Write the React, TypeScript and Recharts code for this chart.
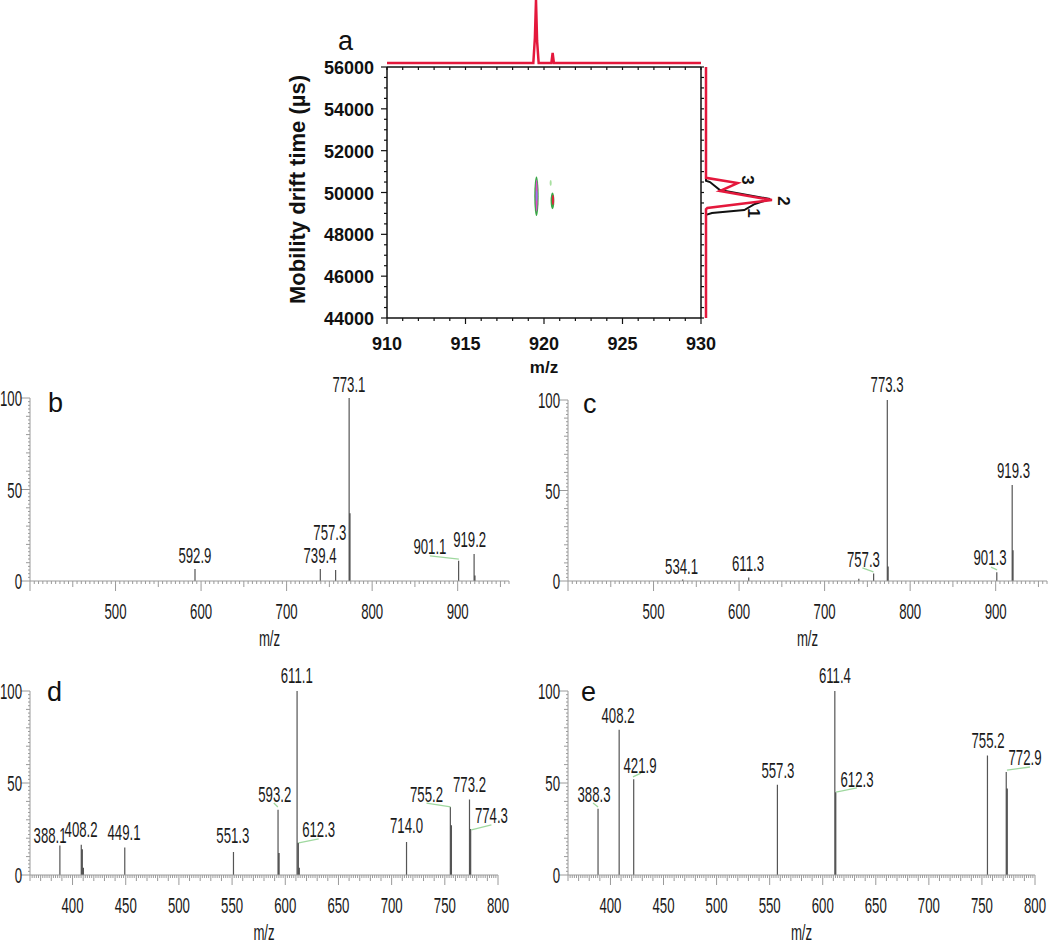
import React from "react";
import {
  ComposedChart,
  Line,
  Scatter,
  XAxis,
  YAxis,
  ReferenceDot,
  ReferenceLine,
  ReferenceArea,
  Label,
} from "recharts";

const SANS = "'Liberation Sans', Arial, Helvetica, sans-serif";
const AXIS = "#9a9a9a";
const STICK = "#555555";
const LEAD = "#9fd89f";
const RED = "#e4183c";

// ---------- panel a: drift time / m/z map ----------
const mapMzRange: [number, number] = [910, 930];
const mapDtRange: [number, number] = [44000, 56000];

// summed m/z projection above the map
const topProfile = [
  { mz: 910, i: 0 },
  { mz: 919.32, i: 0 },
  { mz: 919.42, i: 40 },
  { mz: 919.49, i: 100 },
  { mz: 919.56, i: 35 },
  { mz: 919.66, i: 0 },
  { mz: 920.47, i: 0 },
  { mz: 920.55, i: 16 },
  { mz: 920.63, i: 0 },
  { mz: 930, i: 0 },
];

// drift time projections on the right (i = relative intensity)
const driftRed = [
  { i: 0, dt: 56000 },
  { i: 0, dt: 50700 },
  { i: 48, dt: 50450 },
  { i: 21, dt: 50070 },
  { i: 100, dt: 49640 },
  { i: 2, dt: 49260 },
  { i: 0, dt: 49200 },
  { i: 0, dt: 44000 },
];
const driftBlack = [
  { i: 0, dt: 56000 },
  { i: 0, dt: 50560 },
  { i: 6, dt: 50500 },
  { i: 21, dt: 50120 },
  { i: 97, dt: 49690 },
  { i: 74, dt: 49450 },
  { i: 58, dt: 49160 },
  { i: 9, dt: 49020 },
  { i: 0, dt: 48930 },
  { i: 0, dt: 44000 },
];
const driftLabels = [
  { text: "3", i: 64, dt: 50600 },
  { text: "2", i: 118, dt: 49600 },
  { text: "1", i: 72, dt: 49020 },
];

// contour spots: m/z extent, drift time extent, contour level
const spots = [
  { mz: [919.38, 919.66], dt: [48880, 50760], level: 0 },
  { mz: [919.46, 919.6], dt: [49080, 50620], level: 2 },
  { mz: [919.5, 919.57], dt: [49600, 50100], level: 3 },
  { mz: [920.36, 920.49], dt: [50310, 50600], level: 1 },
  { mz: [920.42, 920.66], dt: [49200, 50000], level: 0 },
  { mz: [920.5, 920.64], dt: [49400, 49880], level: 4 },
];
const levelColors = ["#38a845", "#a8e0a0", "#e24ad0", "#8f7bff", "#d9283c"];

// ---------- panels b-e: MS/MS spectra ----------
type Peak = [number, number];
type PeakLabel = { text: string; mz: number; y: number };
type Leader = [number, number, number, number];

const peaksB: Peak[] = [
  [592.9, 6.5], [739.4, 6.5], [757.3, 6], [773.1, 100], [774.1, 37],
  [901.1, 11], [919.2, 14.7], [920.2, 3],
];
const labelsB: PeakLabel[] = [
  { text: "773.1", mz: 772.8, y: 103.3 },
  { text: "592.9", mz: 592.8, y: 9.8 },
  { text: "739.4", mz: 739, y: 9.8 },
  { text: "757.3", mz: 750.5, y: 22.4 },
  { text: "901.1", mz: 867.5, y: 14.8 },
  { text: "919.2", mz: 914, y: 18.6 },
];
const leadersB: Leader[] = [[867.5, 13.7, 901.4, 12.0]];

const peaksC: Peak[] = [
  [534.1, 0.8], [611.3, 2], [740, 1.2], [757.3, 4.2], [773.3, 100], [774.3, 8],
  [901.3, 4.8], [919.3, 53], [920.3, 17],
];
const labelsC: PeakLabel[] = [
  { text: "773.3", mz: 773, y: 104.4 },
  { text: "534.1", mz: 532.8, y: 3.9 },
  { text: "611.3", mz: 610.4, y: 5.5 },
  { text: "757.3", mz: 745.4, y: 7.7 },
  { text: "901.3", mz: 893.4, y: 8.8 },
  { text: "919.3", mz: 920.8, y: 56.9 },
];
const leadersC: Leader[] = [
  [744.2, 7.2, 757.1, 5.0],
  [894.6, 7.7, 901.6, 6.1],
];

const peaksD: Peak[] = [
  [388.1, 16], [408.2, 16.5], [409.2, 14], [410.2, 4], [449.1, 15], [551.3, 12.5],
  [593.2, 35.5], [594.2, 12], [611.1, 100], [612.3, 17.5], [613.2, 4], [714.0, 18],
  [755.2, 37], [756.2, 27], [773.2, 41], [774.3, 25],
];
const labelsD: PeakLabel[] = [
  { text: "611.1", mz: 610.8, y: 104.3 },
  { text: "388.1", mz: 378.9, y: 17.4 },
  { text: "408.2", mz: 408, y: 20.7 },
  { text: "449.1", mz: 448.4, y: 19 },
  { text: "551.3", mz: 550.7, y: 17.4 },
  { text: "593.2", mz: 590.1, y: 39.7 },
  { text: "612.3", mz: 631.4, y: 20.7 },
  { text: "714.0", mz: 714, y: 22.8 },
  { text: "755.2", mz: 732.8, y: 39.7 },
  { text: "773.2", mz: 773.2, y: 45.1 },
  { text: "774.3", mz: 793.8, y: 28.3 },
];
const leadersD: Leader[] = [
  [589.2, 39.1, 593, 37],
  [612.7, 17.4, 631.4, 19.6],
  [732.8, 39.1, 755.4, 37],
  [775, 24.5, 793.8, 27.2],
];

const peaksE: Peak[] = [
  [388.3, 36], [408.2, 79], [421.9, 52], [557.3, 49], [611.4, 100], [612.3, 45],
  [755.2, 65], [772.9, 56], [773.9, 47],
];
const labelsE: PeakLabel[] = [
  { text: "611.4", mz: 611.5, y: 104.3 },
  { text: "408.2", mz: 407.1, y: 82.6 },
  { text: "421.9", mz: 427.8, y: 55.4 },
  { text: "388.3", mz: 384.5, y: 39.7 },
  { text: "557.3", mz: 557.8, y: 52.7 },
  { text: "612.3", mz: 632.3, y: 47.8 },
  { text: "755.2", mz: 755.7, y: 69 },
  { text: "772.9", mz: 790.6, y: 59.8 },
];
const leadersE: Leader[] = [
  [421.2, 53.3, 428.8, 55.4],
  [383.6, 39.1, 388.3, 37],
  [612.5, 45.1, 632.3, 47.3],
  [773.6, 57, 795.3, 58.7],
];

const range = (a: number, b: number, step: number) => {
  const out: number[] = [];
  for (let v = a; v <= b + 1e-9; v += step) out.push(Math.round(v * 100) / 100);
  return out;
};
const isMult = (v: number, n: number) => Math.abs(v / n - Math.round(v / n)) < 1e-6;

const CondText = ({ x, y, text, anchor = "middle", size = 22 }: any) => (
  <g transform={`translate(${x},${y}) scale(0.6,1)`}>
    <text x={0} y={0} textAnchor={anchor} fontSize={size} fontFamily={SANS} fill="#1a1a1a">
      {text}
    </text>
  </g>
);

type TickSteps = { minor: number; mid: number; major: number; firstLabel: number };

function Spectrum({
  box,
  plot,
  domain,
  peaks,
  labels,
  leaders,
  steps,
}: {
  box: [number, number, number, number];
  plot: [number, number, number, number];
  domain: [number, number];
  peaks: Peak[];
  labels: PeakLabel[];
  leaders: Leader[];
  steps: TickSteps;
}) {
  const [left, top, width, height] = box;
  const [x0, y100, x1, y0] = plot;
  const sticks = peaks.flatMap(([mz, v]) => [
    { mz, v: 0 },
    { mz, v },
    { mz, v: null },
  ]);
  const xTicks = range(domain[0], domain[1], steps.minor);
  const yTicks = range(0, 100, 2);

  const xTick = (p: any) => {
    const v = p.payload.value;
    const len = isMult(v, steps.major) ? 10 : isMult(v, steps.mid) ? 6 : 3;
    const lab = isMult(v, steps.major) && v >= steps.firstLabel;
    return (
      <g>
        <line x1={p.x} x2={p.x} y1={p.y} y2={p.y + len} stroke={AXIS} />
        {lab && <CondText x={p.x} y={p.y + 38} text={String(v)} />}
      </g>
    );
  };
  const yTick = (p: any) => {
    const v = p.payload.value;
    const major = isMult(v, 50);
    const len = major ? 9 : isMult(v, 10) ? 4 : 2;
    return (
      <g>
        <line x1={p.x - len} x2={p.x} y1={p.y} y2={p.y} stroke={AXIS} />
        {major && <CondText x={p.x - 8} y={p.y + 8} text={String(v)} anchor="end" />}
      </g>
    );
  };

  return (
    <div style={{ position: "absolute", left, top }}>
      <ComposedChart
        width={width}
        height={height}
        data={sticks}
        margin={{ top: y100 - top, right: left + width - x1, bottom: 0, left: 0 }}
      >
        <XAxis
          type="number"
          dataKey="mz"
          domain={domain}
          ticks={xTicks}
          interval={0}
          tickSize={0}
          tickMargin={0}
          tickLine={false}
          height={top + height - y0}
          axisLine={{ stroke: AXIS }}
          tick={xTick}
        >
          <Label
            content={(lp: any) => {
              const vb = lp.viewBox || {};
              return <CondText x={vb.x + vb.width / 2} y={vb.y + 65} text="m/z" />;
            }}
          />
        </XAxis>
        <YAxis
          type="number"
          domain={[0, 100]}
          ticks={yTicks}
          interval={0}
          tickSize={0}
          tickMargin={0}
          tickLine={false}
          width={x0 - left}
          axisLine={{ stroke: AXIS }}
          tick={yTick}
        />
        <Line
          dataKey="v"
          stroke={STICK}
          strokeWidth={1.2}
          dot={false}
          activeDot={false}
          connectNulls={false}
          isAnimationActive={false}
        />
        {leaders.map(([a, b, c, d], k) => (
          <ReferenceLine
            key={"l" + k}
            segment={[
              { x: a, y: b },
              { x: c, y: d },
            ]}
            stroke={LEAD}
            strokeWidth={1.3}
            ifOverflow="visible"
          />
        ))}
        {labels.map((l, k) => (
          <ReferenceDot
            key={"t" + k}
            x={l.mz}
            y={l.y}
            r={0}
            ifOverflow="visible"
            shape={(sp: any) => <CondText x={sp.cx} y={sp.cy} text={l.text} />}
          />
        ))}
      </ComposedChart>
    </div>
  );
}

const BOLD = { fontFamily: SANS, fontWeight: 700 as const, fill: "#111" };

function MapPanel() {
  const xTicks = range(910, 930, 1);
  const yTicks = range(44000, 56000, 500);
  const spotCenters = spots.map((s) => ({ mz: (s.mz[0] + s.mz[1]) / 2, dt: (s.dt[0] + s.dt[1]) / 2 }));
  const bottomTick = (p: any) => {
    const v = p.payload.value;
    const major = isMult(v, 5);
    return (
      <g>
        <line x1={p.x} x2={p.x} y1={p.y} y2={p.y + (major ? 6 : 3)} stroke="#111" strokeWidth={1.2} />
        {major && (
          <text x={p.x} y={p.y + 32} textAnchor="middle" fontSize={18} {...BOLD}>
            {v}
          </text>
        )}
      </g>
    );
  };
  const topTick = (p: any) => (
    <line x1={p.x} x2={p.x} y1={p.y} y2={p.y + 3} stroke="#111" strokeWidth={1.2} />
  );
  const leftTick = (p: any) => {
    const v = p.payload.value;
    const major = isMult(v, 2000);
    return (
      <g>
        <line x1={p.x - (major ? 6 : 3)} x2={p.x} y1={p.y} y2={p.y} stroke="#111" strokeWidth={1.2} />
        {major && (
          <text x={p.x - 13} y={p.y + 7} textAnchor="end" fontSize={18} {...BOLD}>
            {v}
          </text>
        )}
      </g>
    );
  };
  const rightTick = (p: any) => (
    <line x1={p.x} x2={p.x + 3} y1={p.y} y2={p.y} stroke="#111" strokeWidth={1.2} />
  );
  const common = { tickSize: 0, tickMargin: 0, tickLine: false, interval: 0 as const };

  return (
    <>
      {/* m/z projection */}
      <div style={{ position: "absolute", left: 387, top: 0 }}>
        <ComposedChart width={314} height={70} data={topProfile} margin={{ top: 0, right: 0, bottom: 7, left: 0 }}>
          <XAxis type="number" dataKey="mz" domain={mapMzRange} hide />
          <YAxis type="number" domain={[0, 100]} hide />
          <Line dataKey="i" stroke={RED} strokeWidth={2.5} dot={false} activeDot={false} isAnimationActive={false} />
        </ComposedChart>
      </div>

      {/* drift time projections */}
      <div style={{ position: "absolute", left: 700, top: 60 }}>
        <ComposedChart width={110} height={320} margin={{ top: 7, right: 38, bottom: 62, left: 6 }}>
          <XAxis type="number" dataKey="i" domain={[0, 100]} hide />
          <YAxis type="number" domain={mapDtRange} hide />
          <Line data={driftBlack} dataKey="dt" stroke="#111" strokeWidth={2} dot={false} activeDot={false} isAnimationActive={false} />
          <Line data={driftRed} dataKey="dt" stroke={RED} strokeWidth={2.5} dot={false} activeDot={false} isAnimationActive={false} />
          {driftLabels.map((l, k) => (
            <ReferenceDot
              key={k}
              x={l.i}
              y={l.dt}
              r={0}
              ifOverflow="visible"
              shape={(sp: any) => (
                <text
                  transform={`translate(${sp.cx},${sp.cy}) rotate(90)`}
                  textAnchor="middle"
                  y={6}
                  fontSize={17}
                  {...BOLD}
                >
                  {l.text}
                </text>
              )}
            />
          ))}
        </ComposedChart>
      </div>

      {/* 2D map */}
      <div style={{ position: "absolute", left: 270, top: 40 }}>
        <ComposedChart width={450} height={340} margin={{ top: 25, right: 15, bottom: 0, left: 0 }}>
          <XAxis
            xAxisId="b"
            type="number"
            dataKey="mz"
            domain={mapMzRange}
            ticks={xTicks}
            height={62}
            axisLine={{ stroke: "#111", strokeWidth: 1.5 }}
            tick={bottomTick}
            {...common}
          >
            <Label
              content={(lp: any) => {
                const vb = lp.viewBox || {};
                return (
                  <text x={vb.x + vb.width / 2} y={vb.y + 55} textAnchor="middle" fontSize={17} {...BOLD}>
                    m/z
                  </text>
                );
              }}
            />
          </XAxis>
          <XAxis
            xAxisId="t"
            orientation="top"
            type="number"
            dataKey="mz"
            domain={mapMzRange}
            ticks={xTicks}
            height={2}
            axisLine={{ stroke: "#111", strokeWidth: 1.5 }}
            tick={topTick}
            {...common}
          />
          <YAxis
            yAxisId="l"
            type="number"
            dataKey="dt"
            domain={mapDtRange}
            ticks={yTicks}
            width={117}
            axisLine={{ stroke: "#111", strokeWidth: 1.5 }}
            tick={leftTick}
            {...common}
          >
            <Label
              content={(lp: any) => {
                const vb = lp.viewBox || {};
                const cx = (vb.x || 0) + 35;
                const cy = vb.y + vb.height / 2 - 3;
                return (
                  <text
                    transform={`translate(${cx},${cy}) rotate(-90)`}
                    textAnchor="middle"
                    fontSize={22}
                    {...BOLD}
                  >
                    Mobility drift time (µs)
                  </text>
                );
              }}
            />
          </YAxis>
          <YAxis
            yAxisId="r"
            orientation="right"
            type="number"
            dataKey="dt"
            domain={mapDtRange}
            ticks={yTicks}
            width={4}
            axisLine={{ stroke: "#111", strokeWidth: 1.5 }}
            tick={rightTick}
            {...common}
          />
          <Scatter xAxisId="b" yAxisId="l" data={spotCenters} fill="none" shape={() => <g />} isAnimationActive={false} />
          <Scatter xAxisId="t" yAxisId="r" data={spotCenters} fill="none" shape={() => <g />} isAnimationActive={false} />
          {spots.map((s, k) => (
            <ReferenceArea
              key={k}
              xAxisId="b"
              yAxisId="l"
              x1={s.mz[0]}
              x2={s.mz[1]}
              y1={s.dt[0]}
              y2={s.dt[1]}
              ifOverflow="visible"
              shape={(rp: any) => (
                <ellipse
                  cx={rp.x + rp.width / 2}
                  cy={rp.y + rp.height / 2}
                  rx={Math.abs(rp.width) / 2}
                  ry={Math.abs(rp.height) / 2}
                  fill={levelColors[s.level]}
                />
              )}
            />
          ))}
        </ComposedChart>
      </div>
    </>
  );
}

const letters = [
  { t: "a", x: 338, y: 50 },
  { t: "b", x: 48, y: 412 },
  { t: "c", x: 583, y: 413 },
  { t: "d", x: 47, y: 701 },
  { t: "e", x: 581, y: 701 },
];

export default function App() {
  return (
    <div style={{ position: "absolute", left: 0, top: 0, width: 1050, height: 946, background: "#fff", overflow: "hidden" }}>
      <MapPanel />
      <Spectrum
        box={[0, 350, 525, 310]}
        plot={[30, 398, 509, 581]}
        domain={[400, 960]}
        peaks={peaksB}
        labels={labelsB}
        leaders={leadersB}
        steps={{ minor: 5, mid: 50, major: 100, firstLabel: 500 }}
      />
      <Spectrum
        box={[525, 350, 525, 310]}
        plot={[568, 400, 1047, 581]}
        domain={[400, 960]}
        peaks={peaksC}
        labels={labelsC}
        leaders={leadersC}
        steps={{ minor: 5, mid: 50, major: 100, firstLabel: 500 }}
      />
      <Spectrum
        box={[0, 640, 525, 306]}
        plot={[30, 691, 498, 875]}
        domain={[360, 800]}
        peaks={peaksD}
        labels={labelsD}
        leaders={leadersD}
        steps={{ minor: 2, mid: 10, major: 50, firstLabel: 400 }}
      />
      <Spectrum
        box={[525, 640, 525, 306]}
        plot={[568, 691, 1035, 875]}
        domain={[360, 800]}
        peaks={peaksE}
        labels={labelsE}
        leaders={leadersE}
        steps={{ minor: 2, mid: 10, major: 50, firstLabel: 400 }}
      />
      <svg width={1050} height={946} style={{ position: "absolute", left: 0, top: 0, pointerEvents: "none" }}>
        {letters.map((l) => (
          <text key={l.t} x={l.x} y={l.y} fontSize={27} fontFamily={SANS} fill="#111">
            {l.t}
          </text>
        ))}
      </svg>
    </div>
  );
}
